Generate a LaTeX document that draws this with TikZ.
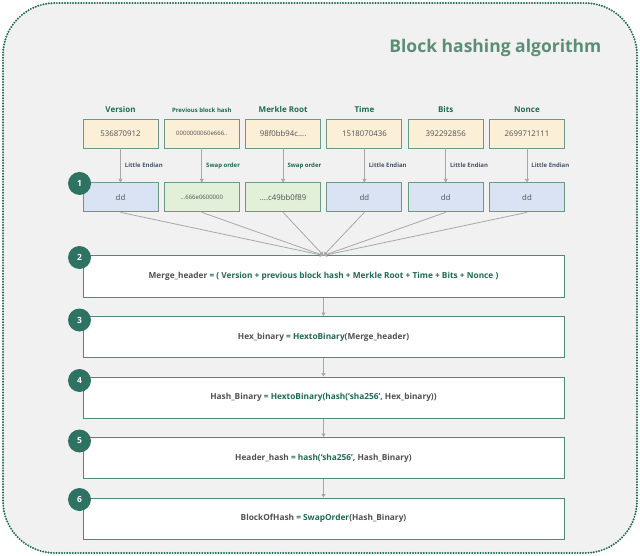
\documentclass[tikz,border=0pt]{standalone}
\usepackage{fontspec}
\setmainfont{Open Sans}
\usepackage{tikz}
\usetikzlibrary{arrows.meta,positioning}
\definecolor{bggray}{HTML}{F1F1F1}
\definecolor{framegreen}{HTML}{1F6B55}
\definecolor{titlegreen}{HTML}{5B8F75}
\definecolor{boxline}{HTML}{6A9A86}
\definecolor{stepline}{HTML}{4F8A76}
\definecolor{valfill}{HTML}{FBEFD8}
\definecolor{endianblue}{HTML}{DAE3F3}
\definecolor{swapgreen}{HTML}{E2F0D9}
\definecolor{numgreen}{HTML}{2E7262}
\definecolor{fgreen}{HTML}{1E6B50}
\definecolor{fgray}{HTML}{505050}
\definecolor{labelblue}{HTML}{44546A}
\definecolor{arrowgray}{HTML}{A8A8A8}
\newcommand{\gr}[1]{\textcolor{fgreen}{#1}}

\begin{document}
\begin{tikzpicture}[
    x=1pt, y=-1pt,
    font=\fontsize{7.8}{9}\selectfont,
    >={Triangle[width=4pt,length=3.5pt]},
    valbox/.style={draw=boxline, line width=0.9pt, fill=valfill, minimum width=75pt, minimum height=29pt, inner sep=1pt, text=fgray},
    endbox/.style={valbox, fill=endianblue},
    swpbox/.style={valbox, fill=swapgreen},
    stepbox/.style={draw=stepline, line width=1pt, fill=white, minimum width=481pt, minimum height=41pt, text=fgray, font=\fontsize{8.3}{10}\selectfont\bfseries},
    num/.style={circle, fill=numgreen, text=white, minimum size=23pt, inner sep=0pt, font=\fontsize{8.5}{10}\selectfont\bfseries},
    head/.style={text=fgreen, font=\fontsize{8}{10}\selectfont\bfseries, inner sep=1pt},
    flow/.style={->, line width=0.8pt, draw=arrowgray},
    note/.style={right, font=\fontsize{6}{7}\selectfont\bfseries, inner sep=4pt}
]
\useasboundingbox (0,0) rectangle (640,556);
\draw[fill=bggray, draw=framegreen, line width=2.2pt, dash pattern=on 0pt off 2.7pt, line cap=round, rounded corners=52pt] (3,3) rectangle (637,553);
\node[anchor=east, text=titlegreen, font=\fontsize{17.5}{21}\selectfont\bfseries] (title) at (605,48) {Block hashing algorithm};

\node[valbox] (v1) at (120.5,133.5) {536870912};
\node[valbox, right=5.4pt of v1, font=\fontsize{6}{7}\selectfont] (v2) {0000000060e666..};
\node[valbox, right=5.4pt of v2] (v3) {98f0bb94c....};
\node[valbox, right=5.4pt of v3] (v4) {1518070436};
\node[valbox, right=5.4pt of v4] (v5) {392292856};
\node[valbox, right=5.4pt of v5] (v6) {2699712111};

\node[head, above=5pt of v1] (h1) {Version};
\node[head, above=5pt of v2, font=\fontsize{6}{7}\selectfont\bfseries] (h2) {Previous block hash};
\node[head, above=5pt of v3] (h3) {Merkle Root};
\node[head, above=5pt of v4] (h4) {Time};
\node[head, above=5pt of v5] (h5) {Bits};
\node[head, above=5pt of v6] (h6) {Nonce};

\node[endbox, below=34pt of v1] (d1) {dd};
\node[swpbox, below=34pt of v2, font=\fontsize{6}{7}\selectfont] (d2) {...666e0600000};
\node[swpbox, below=34pt of v3] (d3) {....c49bb0f89};
\node[endbox, below=34pt of v4] (d4) {dd};
\node[endbox, below=34pt of v5] (d5) {dd};
\node[endbox, below=34pt of v6] (d6) {dd};

\draw[flow] (v1) -- node[note, text=labelblue] {Little Endian} (d1);
\draw[flow] (v2) -- node[note, text=fgreen] {Swap order} (d2);
\draw[flow] (v3) -- node[note, text=fgreen] {Swap order} (d3);
\draw[flow] (v4) -- node[note, text=labelblue] {Little Endian} (d4);
\draw[flow] (v5) -- node[note, text=labelblue] {Little Endian} (d5);
\draw[flow] (v6) -- node[note, text=labelblue] {Little Endian} (d6);

\node[stepbox] (merge) at (323.5,276.5) {Merge\_header \gr{= ( Version + previous block hash + Merkle Root + Time + Bits + Nonce )}};
\node[stepbox, below=18.5pt of merge] (hexbin) {Hex\_binary \gr{= HextoBinary}(Merge\_header)};
\node[stepbox, below=18.5pt of hexbin] (hashbin) {Hash\_Binary \gr{= HextoBinary(hash(`sha256', }Hex\_binary))};
\node[stepbox, below=18.5pt of hashbin] (hdrhash) {Header\_hash \gr{= hash(`sha256', }Hash\_Binary)};
\node[stepbox, below=18.5pt of hdrhash] (blockhash) {BlockOfHash \gr{= SwapOrder}(Hash\_Binary)};

\draw[flow] (d1.south) -- (merge.north);
\draw[flow] (d2.south) -- (merge.north);
\draw[flow] (d3.south) -- (merge.north);
\draw[flow] (d4.south) -- (merge.north);
\draw[flow] (d5.south) -- (merge.north);
\draw[flow] (d6.south) -- (merge.north);
\draw[flow] (merge) -- (hexbin);
\draw[flow] (hexbin) -- (hashbin);
\draw[flow] (hashbin) -- (hdrhash);
\draw[flow] (hdrhash) -- (blockhash);

\node[num, xshift=-3pt, yshift=-1pt] (n1) at (d1.north west) {1};
\node[num, xshift=-3pt, yshift=-2pt] (n2) at (merge.north west) {2};
\node[num, xshift=-3pt, yshift=-4pt] (n3) at (hexbin.north west) {3};
\node[num, xshift=-3pt, yshift=-4pt] (n4) at (hashbin.north west) {4};
\node[num, xshift=-3pt, yshift=-4pt] (n5) at (hdrhash.north west) {5};
\node[num, xshift=-3pt, yshift=-2pt] (n6) at (blockhash.north west) {6};
\end{tikzpicture}
\end{document}
